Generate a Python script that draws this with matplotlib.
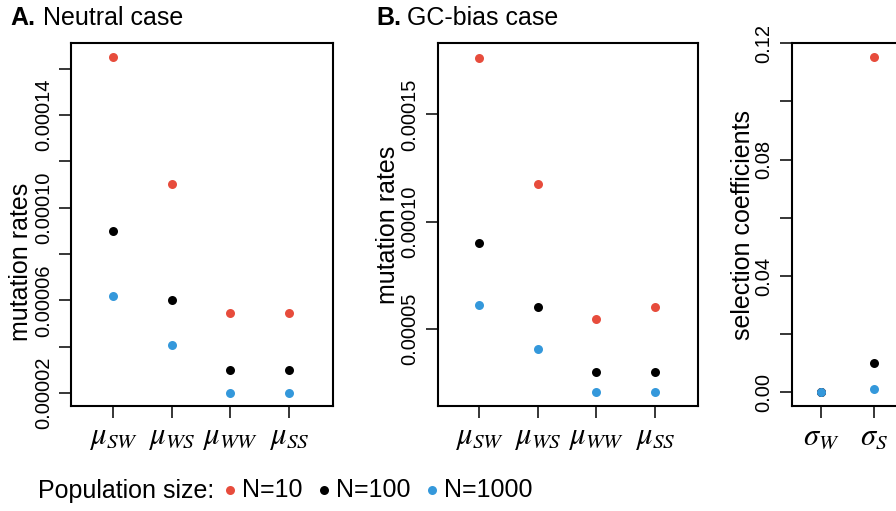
import matplotlib
matplotlib.use("Agg")
import matplotlib.pyplot as plt

plt.rcParams["font.family"] = ["Liberation Sans", "DejaVu Sans"]
plt.rcParams["mathtext.fontset"] = "stix"

# data
mu_labels = [r"$\mu_{SW}$", r"$\mu_{WS}$", r"$\mu_{WW}$", r"$\mu_{SS}$"]
sigma_labels = [r"$\sigma_{W}$", r"$\sigma_{S}$"]

neutral_n10 = [1.65e-4, 1.10e-4, 5.45e-5, 5.45e-5]
neutral_n100 = [9.0e-5, 6.0e-5, 3.0e-5, 3.0e-5]
neutral_n1000 = [6.2e-5, 4.1e-5, 2.0e-5, 2.0e-5]

gc_n10 = [1.765e-4, 1.175e-4, 5.47e-5, 6.03e-5]
gc_n100 = [9.0e-5, 6.0e-5, 3.0e-5, 3.0e-5]
gc_n1000 = [6.1e-5, 4.07e-5, 2.05e-5, 2.05e-5]

sel_n10 = [0.0, 0.1152]
sel_n100 = [0.0, 0.0102]
sel_n1000 = [0.0, 0.0011]

pop_labels = ["N=10", "N=100", "N=1000"]
pop_colors = ["#E74C3C", "black", "#3498DB"]

a_ticks = [2e-5, 4e-5, 6e-5, 8e-5, 1e-4, 1.2e-4, 1.4e-4, 1.6e-4]
a_ticklabels = ["0.00002", "", "0.00006", "", "0.00010", "", "0.00014", ""]
b_ticks = [5e-5, 1e-4, 1.5e-4]
b_ticklabels = ["0.00005", "0.00010", "0.00015"]
c_ticks = [0.0, 0.02, 0.04, 0.06, 0.08, 0.10, 0.12]
c_ticklabels = ["0.00", "", "0.04", "", "0.08", "", "0.12"]

W, H = 896, 511
fig = plt.figure(figsize=(W / 100, H / 100), dpi=100)


def px_axes(left, top, right, bottom):
    return fig.add_axes([left / W, 1 - bottom / H, (right - left) / W, (bottom - top) / H])


def style(ax, yticks, yticklabels, xlabels):
    for s in ax.spines.values():
        s.set_linewidth(1.5)
    ax.set_xticks(range(1, len(xlabels) + 1))
    ax.set_xticklabels(xlabels, fontsize=22)
    ax.set_yticks(yticks)
    ax.set_yticklabels(yticklabels, fontsize=14.5, rotation=90, va="center")
    ax.tick_params(axis="both", length=8.6, width=1.1, direction="out")
    ax.tick_params(axis="y", pad=4.5)
    ax.tick_params(axis="x", pad=3)


def draw(ax, series):
    handles = []
    for vals, col, lab in zip(series, pop_colors, pop_labels):
        x = range(1, len(vals) + 1)
        h = ax.scatter(x, vals, s=42, color=col, label=lab, zorder=3, linewidths=0)
        handles.append(h)
    return handles


# A. Neutral case
axA = px_axes(71, 43, 333, 406)
handles = draw(axA, [neutral_n10, neutral_n100, neutral_n1000])
axA.set_xlim(0.28, 4.75)
axA.set_ylim(1.45e-5, 1.71e-4)
style(axA, a_ticks, a_ticklabels, mu_labels)

# B. GC-bias case
axB = px_axes(437.7, 43, 698.3, 406)
draw(axB, [gc_n10, gc_n100, gc_n1000])
axB.set_xlim(0.29, 4.74)
axB.set_ylim(1.4e-5, 1.833e-4)
style(axB, b_ticks, b_ticklabels, mu_labels)

# C. selection coefficients (cut off at the right edge)
axC = px_axes(791.7, 43.3, 1054, 405.7)
draw(axC, [sel_n10, sel_n100, sel_n1000])
axC.set_xlim(0.45, 5.37)
axC.set_ylim(-0.0046, 0.12)
style(axC, c_ticks, c_ticklabels, sigma_labels)

# panel titles and y labels
fig.text(10 / W, 1 - 25 / H, "A.", fontsize=18, fontweight="bold", va="baseline")
fig.text(43 / W, 1 - 25 / H, "Neutral case", fontsize=18, va="baseline")
fig.text(376 / W, 1 - 25 / H, "B.", fontsize=18, fontweight="bold", va="baseline")
fig.text(407 / W, 1 - 25 / H, "GC-bias case", fontsize=18, va="baseline")

fig.text(21 / W, 1 - 262 / H, "mutation rates", fontsize=18, rotation=90, ha="center", va="center")
fig.text(388 / W, 1 - 225 / H, "mutation rates", fontsize=18, rotation=90, ha="center", va="center")
fig.text(743 / W, 1 - 225 / H, "selection coefficients", fontsize=18, rotation=90, ha="center", va="center")

# legend
fig.text(38 / W, 1 - 498 / H, "Population size:", fontsize=18, va="baseline")
fig.legend(handles, pop_labels, loc="center left", bbox_to_anchor=(222.5 / W, 1 - 490 / H),
           ncol=3, frameon=False, fontsize=18, handlelength=0.6, handletextpad=0.18,
           columnspacing=0.56, borderpad=0, borderaxespad=0, scatterpoints=1)

fig.savefig("out.png", dpi=100)
